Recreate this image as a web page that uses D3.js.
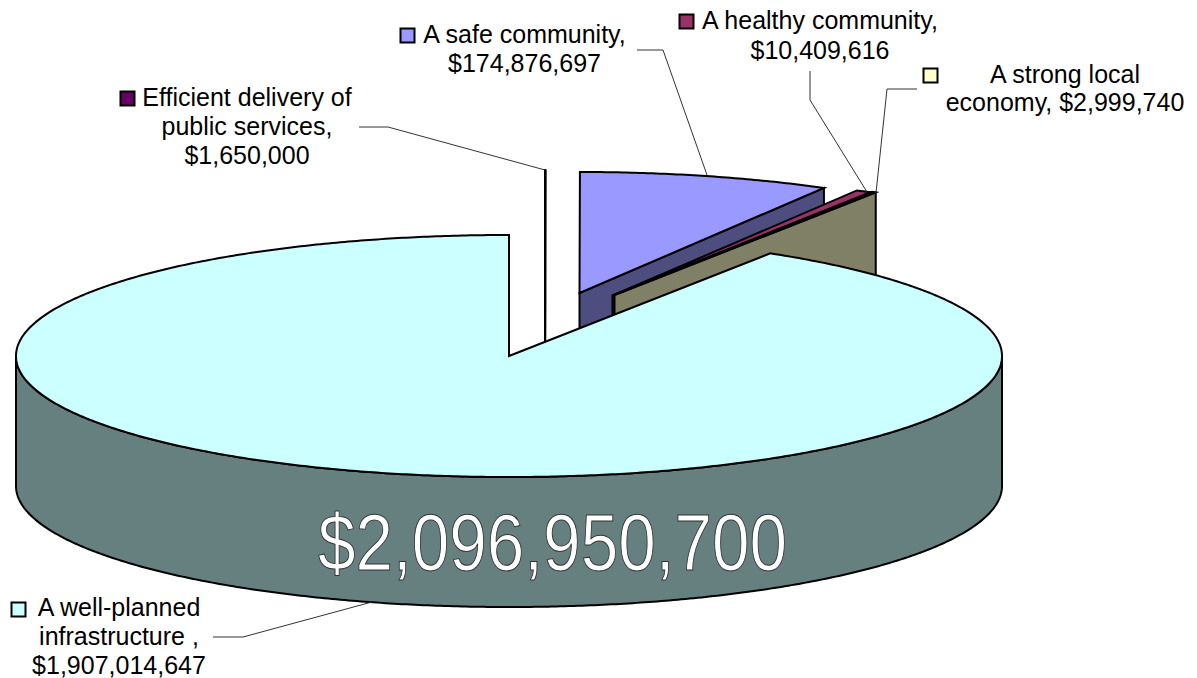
<!DOCTYPE html>
<html>
<head>
<meta charset="utf-8">
<script src="https://cdn.jsdelivr.net/npm/d3@7"></script>
<style>html,body{margin:0;padding:0;background:#fff}svg{display:block}text{font-family:"Liberation Sans",Arial,sans-serif}</style>
</head>
<body>
<svg id="c" width="1197" height="678"></svg>
<script>
const categories = ["Efficient delivery of public services","A safe community","A healthy community","A strong local economy","A well-planned infrastructure"];
const values = [1650000,174876697,10409616,2999740,1907014647];
const topColors = ["#660066","#9999ff","#993366","#ffffcc","#ccffff"];
const wallColors = ["#330033","#4d4d80","#4d1a33","#808066","#668080"];
const totalLabel = "$2,096,950,700";
const labelLines = [
  ["Efficient delivery of","public services,","$1,650,000"],
  ["A safe community,","$174,876,697"],
  ["A healthy community,","$10,409,616"],
  ["A strong local","economy, $2,999,740"],
  ["A well-planned","infrastructure ,","$1,907,014,647"]
];

// layout
const cx=509, cy=356, rx=493, ry=121, depth=130;
const explode=[[36,-65],[70.5,-63],[103.5,-60.5],[105.5,-61],[0,0]];
const labelPos=[[247,106,29],[524.5,43,29],[820,29,30],[1065,83,28],[119,616,29]];
const markers=[[120,91],[400,28],[679,14],[923,68],[11,602]];
const leaders=[
  [[359,127],[388,127],[545,170]],
  [[637,50],[663,50],[707,175]],
  [[810,71],[810,100],[867,192]],
  [[917,89],[887,89],[876,193]],
  [[213,637],[243,637],[372,602]]
];

const svg=d3.select("#c");
const rad=Math.PI/180;
const pie=d3.pie().sort(null).value(d=>d)(values);
// the picture's wedges are slightly tightened near the top
const angle=d3.scaleLinear()
  .domain([0,pie[0].endAngle,pie[4].startAngle,2*Math.PI])
  .range([0,0.05*rad,32*rad,2*Math.PI]);
const px=d3.scaleLinear().domain([-1,1]).range([cx-rx,cx+rx]);
const py=d3.scaleLinear().domain([-1,1]).range([cy-ry,cy+ry]);
const rim=(a,o,d=0)=>[px(Math.sin(a))+o[0],py(-Math.cos(a))+o[1]+d];
const samples=(a0,a1)=>{const n=Math.max(2,Math.ceil((a1-a0)/(0.5*rad)));return d3.range(n+1).map(i=>a0+(a1-a0)*i/n);};
const line=d3.line();
const apex=(o,d=0)=>[cx+o[0],cy+o[1]+d];

const marks=svg.append("g").attr("stroke","#000").attr("stroke-width",2).attr("stroke-linejoin","miter");
pie.forEach((p,i)=>{
  const o=explode[i], a0=angle(p.startAngle), a1=angle(p.endAngle);
  const g=marks.append("g").attr("class","slice");
  if(i===4){
    const arc=samples(Math.max(a0,90*rad),Math.min(a1,270*rad));
    const pts=arc.map(a=>rim(a,o)).concat(arc.slice().reverse().map(a=>rim(a,o,depth)));
    g.append("path").attr("d",line(pts)+"Z").attr("fill",wallColors[i]);
  }else{
    const pts=[apex(o),rim(a1,o),rim(a1,o,depth),apex(o,depth)];
    g.append("path").attr("d",line(pts)+"Z").attr("fill",wallColors[i]);
  }
  const top=[apex(o)].concat(samples(a0,a1).map(a=>rim(a,o)));
  g.append("path").attr("d",line(top)+"Z").attr("fill",topColors[i]);
});

const lead=svg.append("g").attr("fill","none").attr("stroke","#333").attr("stroke-width",1);
leaders.forEach(l=>lead.append("path").attr("d",line(l)));

const lab=svg.append("g").attr("font-size",25).attr("fill","#000").attr("text-anchor","middle");
labelLines.forEach((ls,i)=>{
  const [x,y,dy]=labelPos[i];
  ls.forEach((t,j)=>lab.append("text").attr("x",x).attr("y",y+j*dy).text(t));
  svg.append("rect").attr("x",markers[i][0]+0.5).attr("y",markers[i][1]+0.5).attr("width",14).attr("height",14)
    .attr("fill",topColors[i]).attr("stroke","#000").attr("stroke-width",2);
});

svg.append("text").attr("x",318).attr("y",570).attr("font-size",80)
  .attr("textLength",469).attr("lengthAdjust","spacingAndGlyphs")
  .attr("fill","#fff").attr("stroke","#333").attr("stroke-width",1).text(totalLabel);
</script>
</body>
</html>
